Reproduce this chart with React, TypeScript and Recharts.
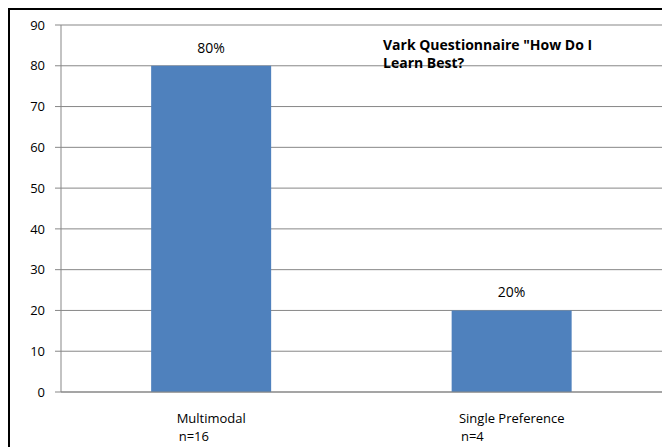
import React from "react";
import { BarChart, Bar, XAxis, YAxis, CartesianGrid, LabelList } from "recharts";

// values
const categories = ["Multimodal", "Single Preference"];
const sampleSizes = ["n=16", "n=4"];
const percentages = [80, 20];
const yTicks = [0, 10, 20, 30, 40, 50, 60, 70, 80, 90];
const boundaryTicks = [0, 1, 2];

const data = categories.map((name, i) => ({
  name,
  sample: sampleSizes[i],
  value: percentages[i],
}));

const FONT = "'Open Sans', Lato, sans-serif";
const GRID = "#878787";

function measure(text: string, font: string) {
  const ctx = document.createElement("canvas").getContext("2d");
  if (!ctx) return text.length * 7;
  ctx.font = font;
  return ctx.measureText(text).width;
}

// two-line label, left aligned block centred on the first line (like Excel)
function CategoryTick(props: any) {
  const { x, y, payload, index } = props;
  const first = String(payload.value);
  const w = measure(first, `13px ${FONT}`);
  const left = x - w / 2;
  return (
    <g>
      <text x={left} y={y + 31} fontSize={13} fontFamily={FONT} fill="#000">
        {first}
      </text>
      <text x={left + 2} y={y + 49} fontSize={13} fontFamily={FONT} fill="#000">
        {sampleSizes[index]}
      </text>
    </g>
  );
}

export default function App() {
  return (
    <div
      style={{
        position: "relative",
        width: 660,
        height: 437,
        borderTop: "2px solid #000",
        borderLeft: "2px solid #000",
      }}
    >
      <BarChart
        width={660}
        height={437}
        data={data}
        margin={{ top: 15, right: 8, left: 0, bottom: 0 }}
        barCategoryGap="30%"
      >
        <CartesianGrid vertical={false} stroke={GRID} strokeWidth={1} />
        <XAxis
          xAxisId="bounds"
          type="number"
          domain={[0, 2]}
          ticks={boundaryTicks}
          allowDataOverflow
          height={0}
          axisLine={false}
          tickLine={{ stroke: GRID }}
          tickSize={5}
          tick={() => <g />}
        />
        <XAxis
          dataKey="name"
          xAxisId="cat"
          height={55}
          axisLine={{ stroke: GRID }}
          tickLine={false}
          tickSize={0}
          tickMargin={0}
          interval={0}
          tick={<CategoryTick />}
        />
        <YAxis
          width={51}
          domain={[0, 90]}
          ticks={yTicks}
          interval={0}
          axisLine={{ stroke: GRID }}
          tickLine={{ stroke: GRID }}
          tickSize={6}
          tickMargin={10}
          tick={{ fontSize: 13, fontFamily: FONT, fill: "#000" }}
        />
        <Bar dataKey="value" xAxisId="cat" fill="#4F81BD" isAnimationActive={false}>
          <LabelList
            dataKey="value"
            position="top"
            offset={13}
            formatter={(v: any) => `${v}%`}
            style={{ fontSize: 14, fontFamily: FONT, fill: "#000" }}
          />
        </Bar>
      </BarChart>
      <div
        style={{
          position: "absolute",
          left: 373,
          top: 26,
          fontFamily: FONT,
          fontSize: 14,
          fontWeight: "bold",
          lineHeight: "18px",
          color: "#000",
          whiteSpace: "pre",
        }}
      >
        {'Vark Questionnaire "How Do I\nLearn Best?'}
      </div>
    </div>
  );
}
